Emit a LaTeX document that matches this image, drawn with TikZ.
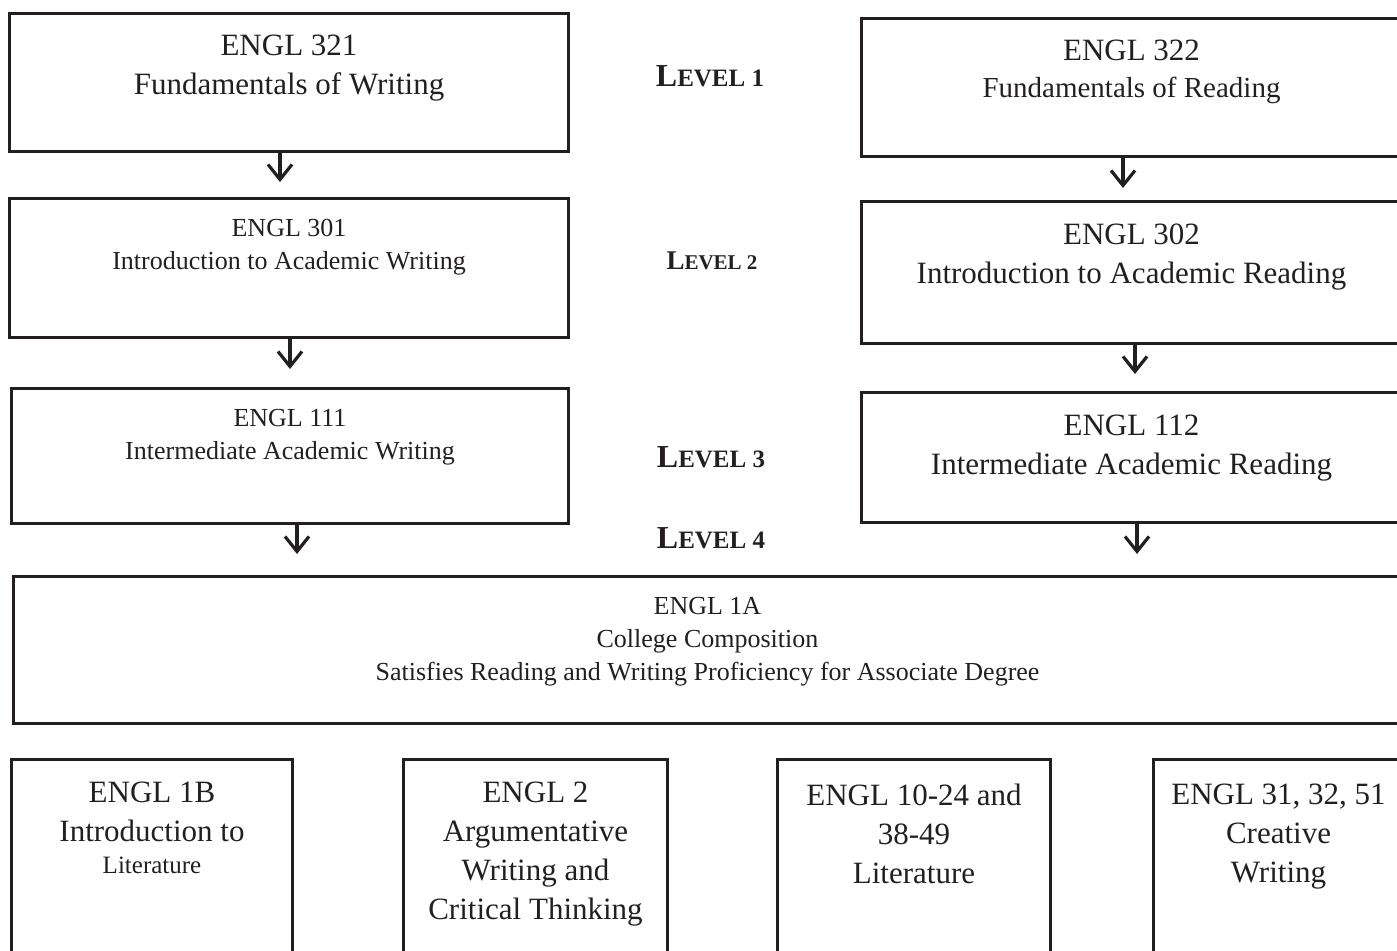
\documentclass[tikz,border=0pt]{standalone}
\usepackage{fontspec}
\setmainfont{Liberation Serif}
\usetikzlibrary{positioning,arrows.meta}
\definecolor{ink}{HTML}{231F20}
\newcommand{\levelmark}[3]{{\bfseries\fontsize{#1}{#1}\selectfont L\fontsize{#2}{#2}\selectfont EVEL #3}}

\begin{document}
\begin{tikzpicture}[x=0.5pt,y=-0.5pt,
    course/.style={draw=ink, line width=1.5pt, rectangle, inner sep=0pt, anchor=north west},
    coursetext/.style={inner sep=0pt, align=center, text=ink},
    big/.style={font=\fontsize{15.5pt}{19.5pt}\selectfont},
    small/.style={font=\fontsize{13pt}{16.5pt}\selectfont},
    levelname/.style={inner sep=0pt, text=ink},
    prereq/.style={draw=ink, line width=1.6pt, -{Straight Barb[length=7.5pt,width=12pt]}}]
    \useasboundingbox (0,0) rectangle (1397,950);
    \clip (0,0) rectangle (1397,950);
    % writing track
    \node[course, minimum width=279.5pt, minimum height=69pt] (w1) at (8,12) {};
    \node[course, minimum width=279.5pt, minimum height=69.5pt] (w2) at (8,197) {};
    \node[course, minimum width=278.5pt, minimum height=67.5pt] (w3) at (10,387) {};
    \node[coursetext, big, below=11.5pt of w1.north] (w1t) {ENGL 321\\Fundamentals of Writing};
    \node[coursetext, small, below=11pt of w2.north] (w2t) {ENGL 301\\Introduction to Academic Writing};
    \node[coursetext, small, below=11pt of w3.north] (w3t) {ENGL 111\\Intermediate Academic Writing};
    % reading track
    \node[course, minimum width=270pt, minimum height=69pt] (r1) at (860,17) {};
    \node[course, minimum width=270pt, minimum height=71pt] (r2) at (860,200) {};
    \node[course, minimum width=270pt, minimum height=65pt] (r3) at (860,391) {};
    \node[coursetext, big, below=11.5pt of r1.north] (r1t) {ENGL 322\\[-1pt]{\fontsize{14.5pt}{18pt}\selectfont Fundamentals of Reading}};
    \node[coursetext, big, below=11.5pt of r2.north] (r2t) {ENGL 302\\Introduction to Academic Reading};
    \node[coursetext, big, below=12pt of r3.north] (r3t) {ENGL 112\\Intermediate Academic Reading};
    % levels
    \node[levelname] (lv1) at (710,76) {\levelmark{16pt}{12.5pt}{1}};
    \node[levelname] (lv2) at (712,261) {\levelmark{13.5pt}{10.5pt}{2}};
    \node[levelname] (lv3) at (711,457) {\levelmark{16pt}{12.5pt}{3}};
    \node[levelname] (lv4) at (711,538) {\levelmark{16pt}{12.5pt}{4}};
    % composition
    \node[course, minimum width=694pt, minimum height=73.5pt] (comp) at (12,575) {};
    \node[coursetext, small, below=11pt of comp.north] (compt) {ENGL 1A\\College Composition\\Satisfies Reading and Writing Proficiency for Associate Degree};
    % after 1A
    \node[course, minimum width=140.5pt, minimum height=125pt] (lit) at (10,758) {};
    \node[course, minimum width=132pt, minimum height=125pt] (arg) at (402,758) {};
    \node[course, minimum width=136.5pt, minimum height=125pt] (survey) at (776,758) {};
    \node[course, minimum width=125pt, minimum height=125pt] (creative) at (1152,758) {};
    \node[coursetext, big, below=12pt of lit.north] (litt) {ENGL 1B\\Introduction to\\[-3.5pt]{\fontsize{12.5pt}{16pt}\selectfont Literature}};
    \node[coursetext, big, below=12pt of arg.north] (argt) {ENGL 2\\Argumentative\\Writing and\\Critical Thinking};
    \node[coursetext, big, below=13pt of survey.north] (surveyt) {ENGL 10-24 and\\38-49\\Literature};
    \node[coursetext, big, below=13pt of creative.north] (creativet) {ENGL 31, 32, 51\\Creative\\Writing};
    % arrows
    \coordinate (a1) at (280,182);
    \coordinate (a2) at (1123,188);
    \coordinate (a3) at (290,369);
    \coordinate (a4) at (1135,374);
    \coordinate (a5) at (297,554);
    \coordinate (a6) at (1137,554);
    \draw[prereq] (w1.south -| a1) -- (a1);
    \draw[prereq] (r1.south -| a2) -- (a2);
    \draw[prereq] (w2.south -| a3) -- (a3);
    \draw[prereq] (r2.south -| a4) -- (a4);
    \draw[prereq] (w3.south -| a5) -- (a5);
    \draw[prereq] (r3.south -| a6) -- (a6);
\end{tikzpicture}
\end{document}
